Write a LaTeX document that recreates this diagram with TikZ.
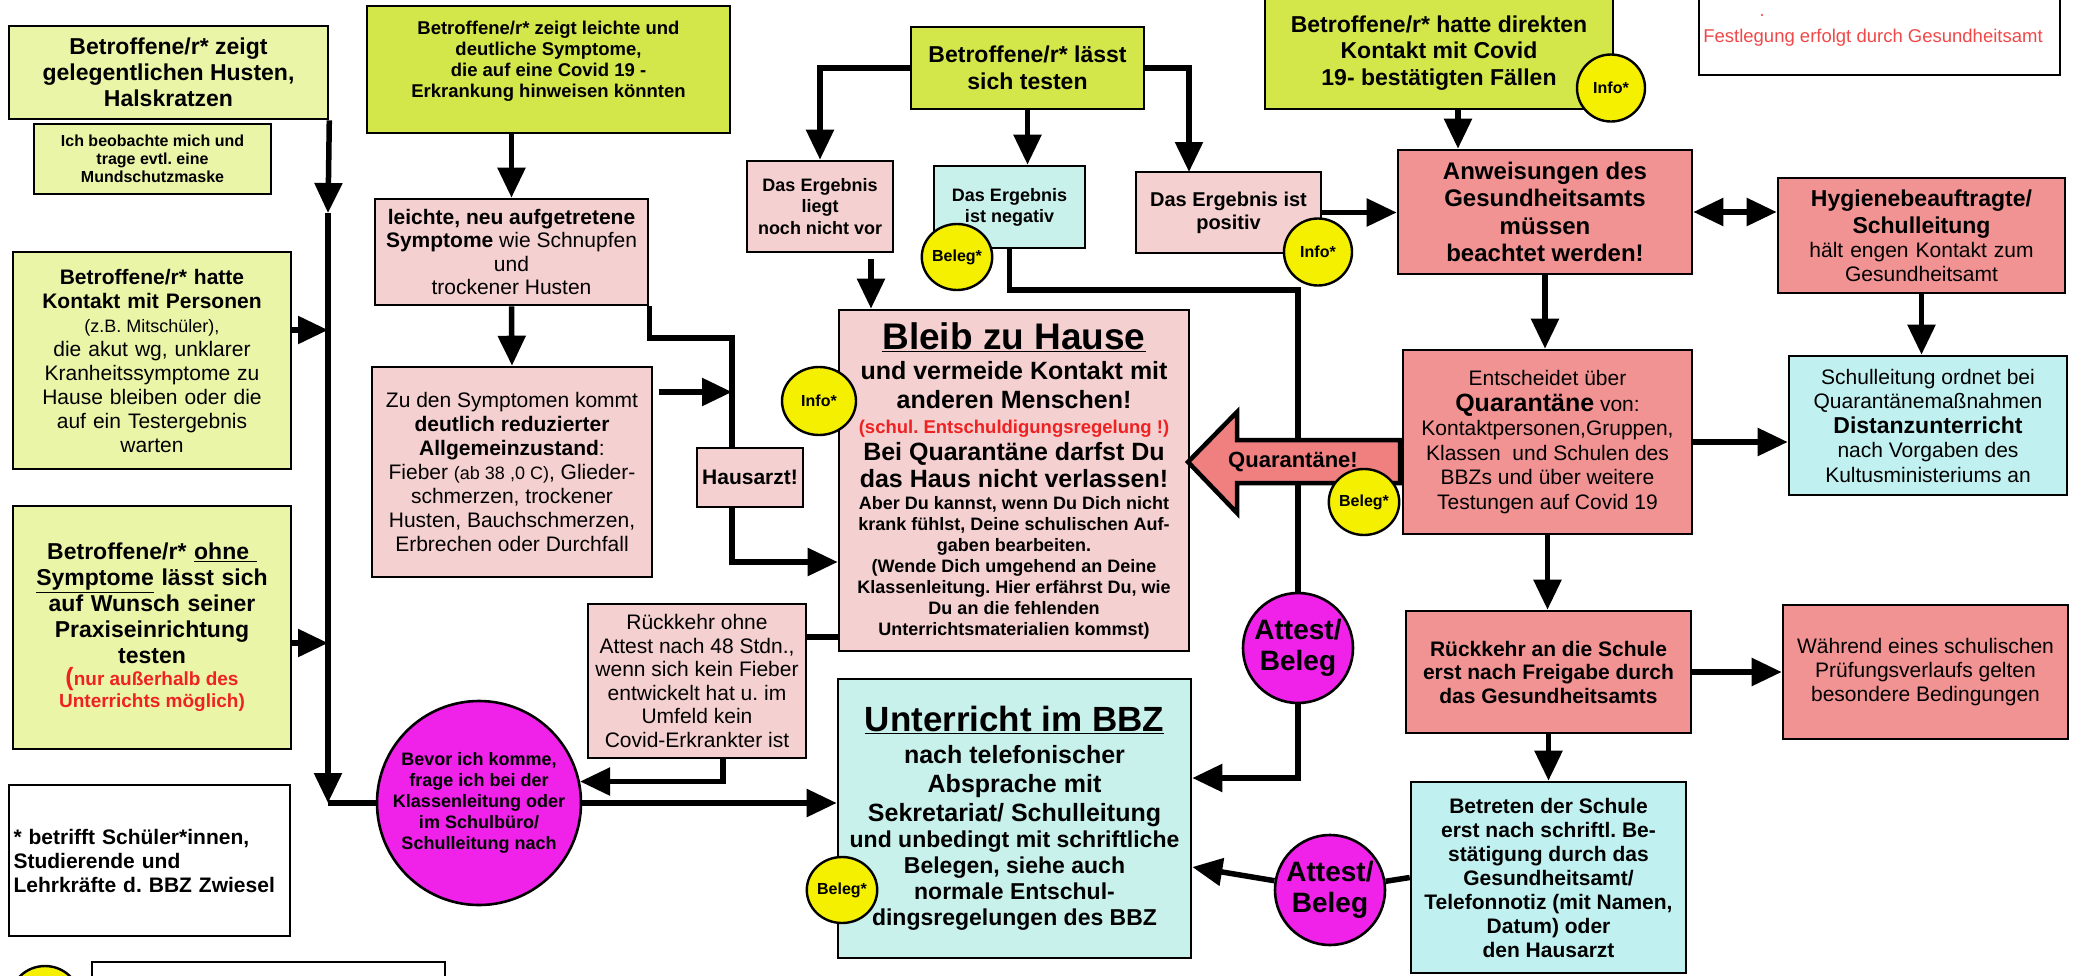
\documentclass[tikz,border=0pt]{standalone}
\usepackage{fontspec}
\setmainfont{Liberation Sans}
\usetikzlibrary{arrows.meta,shapes.geometric}
\frenchspacing

\definecolor{hellgruen}{HTML}{EBF5A8}
\definecolor{gelbgruen}{HTML}{D3E64A}
\definecolor{rosa}{HTML}{F5D0D0}
\definecolor{lachs}{HTML}{F29393}
\definecolor{tuerkis}{HTML}{C8F1EB}
\definecolor{tuerkisB}{HTML}{C1F0F0}
\definecolor{gelb}{HTML}{F4F000}
\definecolor{pinkrund}{HTML}{F022EA}
\definecolor{pfeilrot}{HTML}{F08080}
\definecolor{rottxt}{HTML}{EE2222}
\definecolor{rothell}{HTML}{F04848}

\newcommand{\fsz}[2]{\fontsize{#1}{#2}\selectfont\spaceskip=.278em\relax}

\tikzset{
  box/.style={draw, line width=2.6pt, inner sep=3pt, align=center},
  groesse/.style 2 args={minimum width=#1pt, minimum height=#2pt},
  conn/.style={line width=5.5pt},
  arr/.style={-{Triangle[length=30pt,width=27pt]}},
  darr/.style={{Triangle[length=30pt,width=27pt]}-{Triangle[length=30pt,width=27pt]}},
  punkt/.style={ellipse, draw, line width=2.4pt, fill=gelb, inner sep=0pt,
    minimum width=68pt, minimum height=67pt, font=\bfseries\fsz{16}{18}},
  rund/.style={circle, draw, line width=2.6pt, fill=pinkrund, inner sep=0pt, align=center},
  qpfeil/.style={draw, line width=4.5pt, fill=pfeilrot, line join=miter}
}

\begin{document}
\begin{tikzpicture}[x=1pt,y=-1pt]
\useasboundingbox (0,0) rectangle (2086,975);
\clip (0,0) rectangle (2086,975);

% linke Spalte
\node[box, fill=hellgruen, groesse={319}{93}, font=\bfseries\fsz{23}{26}] (hust) at (168.5,72.5)
  {Betroffene/r* zeigt\\gelegentlichen Husten,\\Halskratzen};
\node[box, fill=hellgruen, groesse={237}{70}, font=\bfseries\fsz{16}{18}] (maske) at (152.5,159)
  {Ich beobachte mich und\\trage evtl. eine\\Mundschutzmaske};
\node[box, fill=hellgruen, groesse={278}{217}, text width=270pt, font=\fsz{21}{24}] (kontakt) at (152,360.5)
  {{\bfseries Betroffene/r* hatte\\Kontakt mit Personen\par}
   {\fsz{18}{24}(z.B. Mitschüler),\par}
   die akut wg, unklarer\\Kranheitssymptome zu\\Hause bleiben oder die\\auf ein Testergebnis\\warten};
\node[box, fill=hellgruen, groesse={278}{243}, text width=270pt, font=\bfseries\fsz{23}{26}] (ohne) at (152,627.5)
  {Betroffene/r* \underline{ohne\ }\\\underline{Symptome} lässt sich\\auf Wunsch seiner\\Praxiseinrichtung\\testen\par
   {\color{rottxt}\fsz{19}{22}{\fsz{25}{22}(}nur außerhalb des\\Unterrichts möglich)\par}};
\node[box, fill=white, groesse={281}{151}, text width=272pt, align=left, font=\bfseries\fsz{21}{24}] (legende) at (149.5,860.5)
  {* betrifft Schüler*innen,\\Studierende und\\Lehrkräfte d. BBZ Zwiesel};
\node[box, fill=white, groesse={353}{56}] (legHinweis) at (268.5,990) {};

% Symptome
\node[box, fill=gelbgruen, groesse={363}{127}, font=\bfseries\fsz{18.5}{21}] (leicht) at (548.5,69.5)
  {Betroffene/r* zeigt leichte und\\deutliche Symptome,\\die auf eine Covid 19 -\\Erkrankung hinweisen könnten\\\mbox{}};
\node[box, fill=rosa, groesse={273}{106}, font=\fsz{21}{23.5}] (sym1) at (511.5,252)
  {{\bfseries leichte, neu aufgetretene}\\{\bfseries Symptome} wie Schnupfen\\und\\trockener Husten};
\node[box, fill=rosa, groesse={280}{210}, font=\fsz{21}{24}] (sym2) at (512,472)
  {Zu den Symptomen kommt\\{\bfseries deutlich reduzierter}\\{\bfseries Allgemeinzustand}:\\Fieber {\fsz{18}{24}(ab 38 ,0 C)}, Glieder-\\schmerzen, trockener\\Husten, Bauchschmerzen,\\Erbrechen oder Durchfall};
\node[box, fill=rosa, groesse={106}{59}, font=\bfseries\fsz{21}{24}] (hausarzt) at (750,477.5) {Hausarzt!};
\node[box, fill=rosa, groesse={218}{154}, font=\fsz{21}{23.5}] (ohneAttest) at (697,681)
  {Rückkehr ohne\\Attest nach 48 Stdn.,\\wenn sich kein Fieber\\entwickelt hat u. im\\Umfeld kein\\Covid-Erkrankter ist};
\node[rund, minimum size=204pt, font=\bfseries\fsz{18}{21}] (bevor) at (479,803)
  {Bevor ich komme,\\frage ich bei der\\Klassenleitung oder\\im Schulbüro/\\Schulleitung nach};

% Test
\node[box, fill=gelbgruen, groesse={233}{82}, font=\bfseries\fsz{23}{27}] (laesst) at (1027.5,68)
  {Betroffene/r* lässt\\sich testen};
\node[box, fill=rosa, groesse={146}{91}, font=\bfseries\fsz{18}{21.5}] (liegt) at (820,206.5)
  {Das Ergebnis\\liegt\\noch nicht vor};
\node[box, fill=tuerkis, groesse={151}{82}, font=\bfseries\fsz{18}{21}] (negativ) at (1009.5,207)
  {Das Ergebnis\\ist negativ};
\node[box, fill=rosa, groesse={185}{81}, font=\bfseries\fsz{20}{23}] (positiv) at (1228.5,212.5)
  {Das Ergebnis ist\\positiv};

% Mitte
\node[box, fill=rosa, groesse={350}{341}, text width=342pt, font=\bfseries\fsz{18}{21}] (bleib) at (1014,480.5)
  {{\fsz{37}{42}\underline{Bleib zu Hause}\par}
   \vspace{1pt}
   {\fsz{25}{29}und vermeide Kontakt mit\\anderen Menschen!\par}
   {\color{rottxt}\fsz{18.5}{25}(schul. Entschuldigungsregelung !)\par}
   {\fsz{25}{27}Bei Quarantäne darfst Du\\das Haus nicht verlassen!\par}
   \vspace{1pt}
   {\fsz{18}{21}Aber Du kannst, wenn Du Dich nicht\\krank fühlst, Deine schulischen Auf-\\gaben bearbeiten.\\(Wende Dich umgehend an Deine\\Klassenleitung. Hier erfährst Du, wie\\Du an die fehlenden\\Unterrichtsmaterialien kommst)\par}};
\node[box, fill=tuerkis, groesse={353}{279}, text width=345pt, font=\bfseries\fsz{23}{26}] (unterricht) at (1014.5,818.5)
  {{\fsz{35}{40}\underline{Unterricht im BBZ}\par}
   \vspace{3pt}
   {\fsz{25}{29}nach telefonischer\\Absprache mit\\Sekretariat/ Schulleitung\par}
   {\fsz{23}{26}und unbedingt mit schriftliche\\Belegen, siehe auch\\normale Entschul-\\dingsregelungen des BBZ\par}};
\node[rund, minimum size=110pt, font=\bfseries\fsz{28}{31}] (attest1) at (1298,648) {Attest/\\Beleg};
\node[rund, minimum size=110pt, font=\bfseries\fsz{28}{31}] (attest2) at (1330,890) {Attest/\\Beleg};

% rechte Seite
\node[box, fill=gelbgruen, groesse={348}{112}, font=\bfseries\fsz{23}{26.5}] (direkt) at (1439,53)
  {Betroffene/r* hatte direkten\\Kontakt mit Covid\\19- bestätigten Fällen};
\node[box, fill=white, groesse={361}{95}] (notiz) at (1879.5,27.5) {};
\node[text=rothell, font=\fsz{18.5}{21}] (notizTxt) at (1873,38) {Festlegung erfolgt durch Gesundheitsamt};
\node[text=rothell, font=\fsz{18}{20}] (notizPkt) at (1762,16) {.};
\node[box, fill=lachs, groesse={294}{124}, font=\bfseries\fsz{24}{27.5}] (anw) at (1545,212)
  {Anweisungen des\\Gesundheitsamts\\müssen\\beachtet werden!};
\node[box, fill=lachs, groesse={287}{115}, text width=280pt, font=\fsz{21}{24}] (hyg) at (1921.5,235.5)
  {{\bfseries\fsz{23}{27}Hygienebeauftragte/\\Schulleitung\par}
   hält engen Kontakt zum\\Gesundheitsamt};
\node[box, fill=tuerkisB, groesse={278}{139}, font=\fsz{21}{24.5}] (ordnet) at (1928,425.5)
  {Schulleitung ordnet bei\\Quarantänemaßnahmen\\{\bfseries\fsz{23}{26}Distanzunterricht}\\nach Vorgaben des\\Kultusministeriums an};
\node[box, fill=lachs, groesse={289}{184}, font=\fsz{21}{24.5}] (entsch) at (1547.5,442)
  {Entscheidet über\\[1pt]{\bfseries\fsz{25}{28}Quarantäne} von:\\Kontaktpersonen,Gruppen,\\Klassen\ \ und Schulen des\\BBZs und über weitere\\Testungen auf Covid 19};
\node[box, fill=lachs, groesse={285}{122}, font=\bfseries\fsz{21}{23.5}] (rueckS) at (1548.5,672)
  {Rückkehr an die Schule\\erst nach Freigabe durch\\das Gesundheitsamts};
\node[box, fill=lachs, groesse={285}{134}, font=\fsz{21}{24}] (waehrend) at (1925.5,672)
  {Während eines schulischen\\Prüfungsverlaufs gelten\\besondere Bedingungen};
\node[box, fill=tuerkisB, groesse={275}{191}, font=\bfseries\fsz{21}{24}] (betreten) at (1548.5,877.5)
  {Betreten der Schule\\erst nach schriftl. Be-\\stätigung durch das\\Gesundheitsamt/\\Telefonnotiz (mit Namen,\\Datum) oder\\den Hausarzt};

% Verbindungen links
\coordinate (busM) at (328,213);
\coordinate (busB) at (328,803);
\draw[conn,arr] (hust.south east) -- (busM);
\draw[conn,arr] (busM) -- (busB);
\draw[conn,arr] (kontakt.east |- 0,330) -- (busM |- 0,330);
\draw[conn,arr] (ohne.east |- 0,643) -- (busM |- 0,643);
\draw[conn] (busB) -- (bevor);
\draw[conn,arr] (bevor) -- (unterricht.west |- bevor);

% Verbindungen Symptome
\coordinate (hk) at (732,338);
\draw[conn,arr] (sym1.north |- leicht.south) -- (sym1.north);
\draw[conn,arr] (sym1.south) -- (sym2.north);
\draw[conn] (sym1.south east) |- (hk) -- (hk |- hausarzt.north);
\draw[conn,arr] ([xshift=6pt]sym2.east |- 0,392) -- (hk |- 0,392);
\draw[conn,arr] (hk |- hausarzt.south) |- (bleib.west |- 0,562);
\draw[conn] (ohneAttest.east |- 0,637) -- (bleib.west |- 0,637);
\draw[conn,arr] (ohneAttest.south -| 723,0) |- (bevor.12);

% Verbindungen Test
\coordinate (negBend) at (1298,290);
\draw[conn,arr] (laesst.west) -| (liegt.north);
\draw[conn,arr] (laesst.south) -- (laesst.south |- negativ.north);
\draw[conn,arr] (laesst.east) -| (1189,172);
\draw[conn,arr] ([xshift=51pt,yshift=-6pt]liegt.south) -- ([xshift=51pt]liegt.south |- bleib.north);
\draw[conn] (negativ.south) |- (negBend) -- (attest1);
\draw[conn,arr] (attest1) |- (unterricht.east |- 0,778);
\draw[conn,arr] (positiv.east) -- (anw.west |- positiv.east);

% Verbindungen rechts
\draw[conn,arr] ([xshift=19pt]direkt.south) -- ([xshift=19pt]direkt.south |- anw.north);
\draw[conn,darr] (anw.east) -- (hyg.west |- anw.east);
\draw[conn,arr] (hyg.south) -- (hyg.south |- ordnet.north);
\draw[conn,arr] (anw.south) -- (anw.south |- entsch.north);
\draw[conn,arr] (entsch.east) -- (ordnet.west |- entsch.east);
\draw[conn,arr] (entsch.south) -- (entsch.south |- rueckS.north);
\draw[conn,arr] (rueckS.east) -- (waehrend.west |- rueckS.east);
\draw[conn,arr] (rueckS.south) -- (rueckS.south |- betreten.north);
\draw[conn] (betreten.west) -- (attest2);
\draw[conn,arr] (attest2) -- (unterricht.east |- 0,867);

% Quarantaene-Pfeil
\filldraw[qpfeil] (1188,462) -- (1237,412) -- (1237,440) -- (1400,440)
  -- (1400,483) -- (1237,483) -- (1237,513) -- cycle;
\node[font=\bfseries\fsz{22}{24}] (quarTxt) at (1293,462) {Quarantäne!};

% Info / Beleg
\node[punkt, minimum width=74pt, minimum height=68pt] (info1) at (819,401) {Info*};
\node[punkt] (info2) at (1318,252) {Info*};
\node[punkt] (info3) at (1611,88) {Info*};
\node[punkt, minimum width=64pt, minimum height=66pt] (beleg1) at (957,257) {Beleg*};
\node[punkt, minimum width=66pt, minimum height=66pt] (beleg2) at (1364,502) {Beleg*};
\node[punkt, minimum width=66pt, minimum height=66pt] (beleg3) at (842,890) {Beleg*};
\node[punkt, minimum width=70pt, minimum height=68pt] (legKreis) at (45,1000) {};
\end{tikzpicture}
\end{document}
